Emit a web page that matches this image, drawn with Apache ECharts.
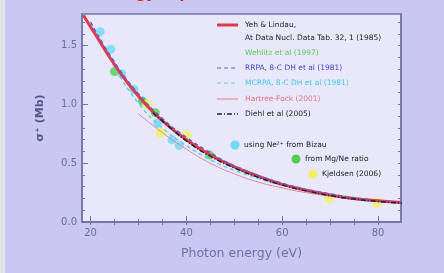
<!DOCTYPE html>
<html>
<head>
<meta charset="utf-8">
<script src="https://cdn.jsdelivr.net/npm/echarts@6/dist/echarts.min.js"></script>
<style>
  html, body { margin: 0; padding: 0; background: #c8c8f2; }
  #chart { width: 444px; height: 273px; filter: blur(0.5px); }
</style>
</head>
<body>
<div id="chart"></div>
<script>
// curves (photon energy in eV, cross section in Mb)
const yehE = [18.5, 20, 22, 24, 26, 28, 30, 32, 35, 40, 45, 50, 55, 60, 65, 70, 75, 80, 85];
const yehLindau = [1.76, 1.66, 1.53, 1.40, 1.28, 1.17, 1.07, 0.98, 0.86, 0.70, 0.57, 0.47, 0.39, 0.32, 0.27, 0.23, 0.20, 0.18, 0.165];
const rrpaE = [20, 25, 30, 35, 40, 45, 50, 60, 70, 80, 85];
const rrpa = [1.70, 1.36, 1.09, 0.88, 0.72, 0.59, 0.48, 0.33, 0.24, 0.18, 0.165];
const mcrpaE = [22, 25, 30, 35, 40, 45, 50, 60];
const mcrpa = [1.56, 1.32, 1.01, 0.80, 0.65, 0.53, 0.44, 0.31];
const hfE = [30, 35, 40, 45, 50, 55, 60, 65, 70, 75, 80, 85];
const hartreeFock = [0.92, 0.76, 0.62, 0.50, 0.41, 0.34, 0.29, 0.25, 0.22, 0.19, 0.175, 0.16];
const diehlE = [33, 35, 40, 45, 50, 55, 60, 65, 70, 75, 80, 85];
const diehl = [0.93, 0.86, 0.69, 0.56, 0.46, 0.38, 0.315, 0.265, 0.225, 0.195, 0.175, 0.16];

// measured points
const bizauPts = [[22, 1.62], [24.2, 1.47], [26.5, 1.26], [29, 1.13], [31, 1.02], [34, 0.84], [37, 0.70], [38.5, 0.65]];
const ratioPts = [[25, 1.28], [30.8, 1.03], [33.5, 0.93], [44.8, 0.57]];
const kjeldsenPts = [[31.8, 1.0], [34.6, 0.76], [40, 0.735], [69.8, 0.2], [79.8, 0.165]];

const xLabels = [20, 40, 60, 80];
const xMinor = [20, 25, 30, 35, 40, 45, 50, 55, 60, 65, 70, 75, 80, 85];
const yLabels = [0, 0.5, 1.0, 1.5];
const yMinor = [0, 0.1, 0.2, 0.3, 0.4, 0.5, 0.6, 0.7, 0.8, 0.9, 1.0, 1.1, 1.2, 1.3, 1.4, 1.5, 1.6, 1.7];

const lineLegend = [
  { text: 'Yeh & Lindau,', color: '#222', line: { stroke: '#e03a4a', lineWidth: 3 } },
  { text: 'At Data Nucl. Data Tab. 32, 1 (1985)', color: '#222', line: null },
  { text: 'Wehlitz et al (1997)', color: '#5cc85c', line: null },
  { text: 'RRPA, 8-C DH et al (1981)', color: '#4444c8', line: { stroke: '#6060d0', lineWidth: 1.2, lineDash: [4, 3] } },
  { text: 'MCRPA, 8-C DH et al (1981)', color: '#40c8f0', line: { stroke: '#60d0f0', lineWidth: 1.2, lineDash: [4, 3] } },
  { text: 'Hartree-Fock (2001)', color: '#e07080', line: { stroke: '#e08090', lineWidth: 1 } },
  { text: 'Diehl et al (2005)', color: '#222', line: { stroke: '#202030', lineWidth: 1.5, lineDash: [5, 2, 1, 2] } }
];
const lineLegendY = [25, 38, 53, 68, 83, 99, 114];
const dotLegend = [
  { text: 'using Ne\u00B2\u207A from Bizau', color: '#70d8f8', x: 235, y: 145 },
  { text: 'from Mg/Ne ratio', color: '#50d050', x: 296, y: 159 },
  { text: 'Kjeldsen (2006)', color: '#f2f060', x: 313, y: 174 }
];

const legendGraphics = [];
lineLegend.forEach(function (item, i) {
  const y = lineLegendY[i];
  if (item.line) {
    legendGraphics.push({ type: 'line', shape: { x1: 217, y1: y, x2: 238, y2: y }, style: item.line });
  }
  legendGraphics.push({ type: 'text', x: 245, y: y, style: { text: item.text, fill: item.color, font: '7.5px "DejaVu Sans"', verticalAlign: 'middle' } });
});
dotLegend.forEach(function (item) {
  legendGraphics.push({ type: 'circle', shape: { cx: item.x, cy: item.y, r: 4.5 }, style: { fill: item.color } });
  legendGraphics.push({ type: 'text', x: item.x + 9, y: item.y, style: { text: item.text, fill: '#222', font: '7.5px "DejaVu Sans"', verticalAlign: 'middle' } });
});

function pairs(xs, ys) { return xs.map(function (x, i) { return [x, ys[i]]; }); }

const chart = echarts.init(document.getElementById('chart'));
const axisColor = '#7474a6';
const tickText = { color: '#6c6c9c', fontSize: 10, fontFamily: 'DejaVu Sans' };

chart.setOption({
  backgroundColor: '#c8c8f2',
  animation: false,
  grid: { left: 82, right: 43, top: 14, bottom: 51, show: true, backgroundColor: '#e8e8fa', borderColor: axisColor, borderWidth: 1.5 },
  xAxis: [
    {
      type: 'value', min: 18.2, max: 84.8, position: 'bottom',
      name: 'Photon energy (eV)', nameLocation: 'middle', nameGap: 25,
      nameTextStyle: { color: '#7070a2', fontSize: 12.5, fontFamily: 'DejaVu Sans' },
      axisLine: { show: true, lineStyle: { color: axisColor, width: 1.5 } },
      axisTick: { show: true, inside: true, length: 6, customValues: xLabels, lineStyle: { color: axisColor } },
      axisLabel: { customValues: xLabels, margin: 6, ...tickText },
      splitLine: { show: false }
    },
    {
      type: 'value', min: 18.2, max: 84.8, position: 'bottom',
      axisLine: { show: false },
      axisTick: { show: true, inside: true, length: 3, customValues: xMinor, lineStyle: { color: axisColor } },
      axisLabel: { show: false }, splitLine: { show: false }
    },
    {
      type: 'value', min: 18.2, max: 84.8, position: 'top',
      axisLine: { show: true, lineStyle: { color: axisColor, width: 1.5 } },
      axisTick: { show: true, inside: true, length: 3, customValues: xMinor, lineStyle: { color: axisColor } },
      axisLabel: { show: false }, splitLine: { show: false }
    }
  ],
  yAxis: [
    {
      type: 'value', min: 0, max: 1.77, position: 'left',
      name: '\u03C3\u207A (Mb)', nameLocation: 'middle', nameGap: 36, nameRotate: 90,
      nameTextStyle: { color: '#55558a', fontSize: 11, fontWeight: 'bold', fontFamily: 'DejaVu Sans' },
      axisLine: { show: true, lineStyle: { color: axisColor, width: 1.5 } },
      axisTick: { show: true, inside: true, length: 6, customValues: yLabels, lineStyle: { color: axisColor } },
      axisLabel: { customValues: yLabels, margin: 5, formatter: function (v) { return v.toFixed(1); }, ...tickText },
      splitLine: { show: false }
    },
    {
      type: 'value', min: 0, max: 1.77, position: 'left',
      axisLine: { show: false },
      axisTick: { show: true, inside: true, length: 3, customValues: yMinor, lineStyle: { color: axisColor } },
      axisLabel: { show: false }, splitLine: { show: false }
    },
    {
      type: 'value', min: 0, max: 1.77, position: 'right',
      axisLine: { show: true, lineStyle: { color: axisColor, width: 1.5 } },
      axisTick: { show: true, inside: true, length: 3, customValues: yMinor, lineStyle: { color: axisColor } },
      axisLabel: { show: false }, splitLine: { show: false }
    }
  ],
  graphic: [
    { type: 'rect', shape: { x: 0, y: 0, width: 5, height: 273 }, style: { fill: '#e2e2ea' } },
    { type: 'text', x: 100, y: -13, style: { text: 'Energy dependence', fill: '#ff1010', font: 'bold 14px "DejaVu Sans"' } }
  ].concat(legendGraphics),
  series: [
    { type: 'line', name: 'Hartree-Fock', data: pairs(hfE, hartreeFock), smooth: true, showSymbol: false, lineStyle: { color: '#e08898', width: 1 } },
    { type: 'line', name: 'MCRPA', data: pairs(mcrpaE, mcrpa), smooth: true, showSymbol: false, lineStyle: { color: '#60d0f0', width: 1.5, type: [4, 3] } },
    { type: 'line', name: 'Yeh & Lindau', data: pairs(yehE, yehLindau), smooth: true, showSymbol: false, lineStyle: { color: '#e03a4a', width: 3 } },
    { type: 'line', name: 'RRPA', data: pairs(rrpaE, rrpa), smooth: true, showSymbol: false, lineStyle: { color: '#6060d0', width: 1.5, type: [4, 3] } },
    { type: 'line', name: 'Diehl', data: pairs(diehlE, diehl), smooth: true, showSymbol: false, lineStyle: { color: '#202030', width: 1.5, type: [5, 2, 1, 2] } },
    { type: 'scatter', name: 'Bizau', data: bizauPts, symbolSize: 9, itemStyle: { color: '#70d8f8' } },
    { type: 'scatter', name: 'ratio', data: ratioPts, symbolSize: 9, itemStyle: { color: '#50d050' } },
    { type: 'scatter', name: 'Kjeldsen', data: kjeldsenPts, symbolSize: 10, itemStyle: { color: '#f2f060' } }
  ]
});
</script>
</body>
</html>
